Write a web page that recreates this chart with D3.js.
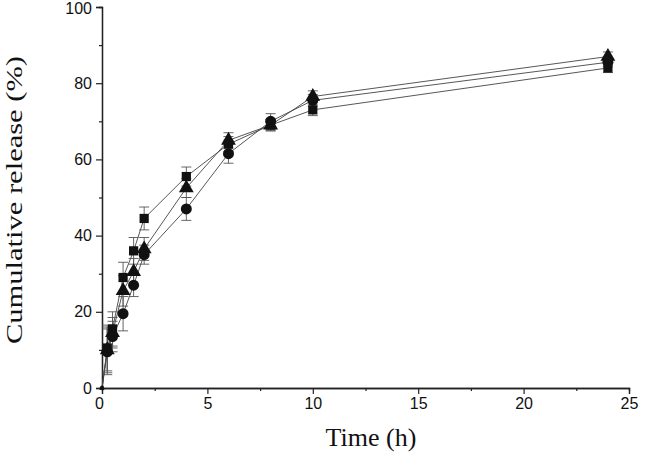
<!DOCTYPE html>
<html><head><meta charset="utf-8">
<script src="https://cdn.jsdelivr.net/npm/d3@7"></script>
<style>body{margin:0;background:#fff}svg{display:block}</style>
</head><body>
<svg id="c" width="666" height="453"></svg>
<script>
const times = [0, 0.25, 0.5, 1, 1.5, 2, 4, 6, 8, 10, 24];
const squareVals = [0, 10.5, 15.5, 29, 36, 44.5, 55.5, 64, 69, 73, 84];
const squareErr  = [0, 6, 4.5, 4, 3.5, 3, 2.5, 2, 1.5, 1.5, 1.2];
const triangleVals = [0, 10, 14.5, 25.5, 30.5, 36.5, 52.5, 65, 69, 76.5, 87];
const triangleErr  = [0, 6, 4, 4, 3.5, 3, 2.5, 2, 1.5, 1.5, 1.2];
const circleVals = [0, 9.5, 13.5, 19.5, 27, 35, 47, 61.5, 70, 75.5, 85.5];
const circleErr  = [0, 6, 4, 4.5, 3, 2.5, 3, 2.5, 2, 1.5, 1.2];
const xTicks = [0, 5, 10, 15, 20, 25];
const yTicks = [0, 20, 40, 60, 80, 100];
const xTitle = "Time (h)";
const yTitle = "Cumulative release (%)";

const svg = d3.select("#c");
const x = d3.scaleLinear().domain([0, 25]).range([102, 629]);
const y = d3.scaleLinear().domain([0, 100]).range([388, 7]);

const series = [
  {vals: squareVals, err: squareErr, sym: d3.symbolSquare, size: 85},
  {vals: triangleVals, err: triangleErr, sym: d3.symbolTriangle, size: 95},
  {vals: circleVals, err: circleErr, sym: d3.symbolCircle, size: 95}
];

// axes
const xAxis = svg.append("g").attr("transform", "translate(0,388)")
  .call(d3.axisBottom(x).tickValues(xTicks).tickSize(6).tickPadding(4).tickFormat(d => d === 0 ? "0" : d));
const xMinor = svg.append("g").attr("transform", "translate(0,388)")
  .call(d3.axisBottom(x).tickValues(d3.range(2.5, 25, 5)).tickSize(3).tickFormat(""));
const yAxis = svg.append("g").attr("transform", "translate(102,0)")
  .call(d3.axisLeft(y).tickValues(yTicks).tickSize(6).tickPadding(4));
const yMinor = svg.append("g").attr("transform", "translate(102,0)")
  .call(d3.axisLeft(y).tickValues(d3.range(10, 100, 20)).tickSize(3).tickFormat(""));
[xAxis, xMinor, yAxis, yMinor].forEach(g => {
  g.select(".domain").attr("stroke", "#222").attr("stroke-width", 1.3);
  g.selectAll(".tick line").attr("stroke", "#222").attr("stroke-width", 1.2);
  g.selectAll("text").attr("font-family", "Liberation Sans, Arial, sans-serif")
    .attr("font-size", 16).attr("fill", "#111");
});
xAxis.selectAll(".tick").filter(d => d === 0).select("text").attr("dx", -3);
yAxis.selectAll(".tick").filter(d => d === 100).select("text").attr("dy", "0.42em");

// lines
const line = d3.line().x((d, i) => x(times[i])).y(d => y(d));
series.forEach(s => {
  svg.append("path").datum(s.vals).attr("d", line)
    .attr("fill", "none").attr("stroke", "#444").attr("stroke-width", 0.9);
});
// error bars
series.forEach(s => {
  const g = svg.append("g").attr("stroke", "#555").attr("stroke-width", 0.9);
  s.vals.forEach((v, i) => {
    if (!s.err[i]) return;
    const cx = x(times[i]);
    g.append("line").attr("x1", cx).attr("x2", cx).attr("y1", y(v - s.err[i])).attr("y2", y(v + s.err[i]));
    [v - s.err[i], v + s.err[i]].forEach(e => {
      g.append("line").attr("x1", cx - 5).attr("x2", cx + 5).attr("y1", y(e)).attr("y2", y(e));
    });
  });
});
// markers
series.forEach(s => {
  svg.append("g").selectAll("path").data(s.vals).join("path")
    .attr("transform", (d, i) => `translate(${x(times[i])},${y(d)})`)
    .attr("d", (d, i) => d3.symbol().type(s.sym).size(times[i] === 0 ? 12 : s.size)())
    .attr("fill", "#111");
});

// titles
svg.append("text").attr("x", 371).attr("y", 446).attr("text-anchor", "middle")
  .attr("font-family", "Liberation Serif, Times New Roman, serif").attr("font-size", 26)
  .attr("fill", "#111").text(xTitle);
svg.append("text").attr("transform", "translate(22,200) rotate(-90)").attr("text-anchor", "middle")
  .attr("font-family", "Liberation Serif, Times New Roman, serif").attr("font-size", 23)
  .attr("textLength", 288).attr("lengthAdjust", "spacingAndGlyphs")
  .attr("fill", "#111").text(yTitle);
</script>
</body></html>
